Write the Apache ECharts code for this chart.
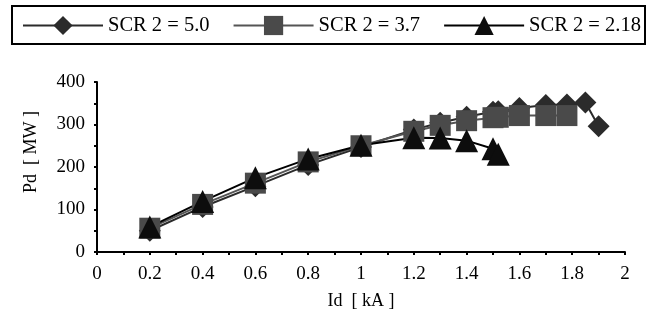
<!DOCTYPE html>
<html>
<head>
<meta charset="utf-8">
<script src="https://cdn.jsdelivr.net/npm/echarts@6/dist/echarts.min.js"></script>
<style>
  html, body { margin: 0; padding: 0; background: #fff; }
  #chart { width: 653px; height: 329px; }
</style>
</head>
<body>
<div id="chart"></div>
<script>
// values
const xScr50 = [0.2, 0.4, 0.6, 0.8, 1.0, 1.2, 1.3, 1.4, 1.5, 1.52, 1.6, 1.7, 1.78, 1.85, 1.9];
const yScr50 = [50, 106, 155, 205, 247, 288, 304, 318, 330, 331, 339, 346, 347, 352, 296];

const xScr37 = [0.2, 0.4, 0.6, 0.8, 1.0, 1.2, 1.3, 1.4, 1.5, 1.52, 1.6, 1.7, 1.78];
const yScr37 = [56, 112, 162, 212, 250, 284, 298, 309, 316, 317, 321, 321, 321];

const xScr218 = [0.2, 0.4, 0.6, 0.8, 1.0, 1.2, 1.3, 1.4, 1.5, 1.52];
const yScr218 = [59, 119, 175, 219, 251, 269, 268, 262, 243, 230];

const seriesNames = ['SCR 2 = 5.0', 'SCR 2 = 3.7', 'SCR 2 = 2.18'];

const zip = (xs, ys) => xs.map((x, i) => [x, ys[i]]);

const font = 'Liberation Serif';
const chart = echarts.init(document.getElementById('chart'));

chart.setOption({
  animation: false,
  textStyle: { fontFamily: font, color: '#000' },
  // frame around the legend
  graphic: [{
    type: 'rect',
    shape: { x: 12, y: 6, width: 633, height: 38 },
    style: { fill: 'none', stroke: '#000', lineWidth: 2 }
  }],
  legend: {
    left: 22,
    top: 15,
    width: 630,
    padding: 0,
    itemWidth: 80,
    itemHeight: 24,
    itemGap: 23,
    textStyle: { fontFamily: font, fontSize: 20.5, color: '#000' },
    data: seriesNames
  },
  grid: { left: 97, right: 28, top: 82, bottom: 77 },
  xAxis: {
    type: 'value',
    min: 0, max: 2, interval: 0.2,
    name: 'Id  [ kA ]',
    nameLocation: 'middle',
    nameGap: 40,
    nameTextStyle: { fontFamily: font, fontSize: 18, color: '#000' },
    axisLine: { lineStyle: { color: '#000', width: 2 } },
    axisTick: { length: 3, lineStyle: { color: '#000', width: 2 } },
    minorTick: { show: true, splitNumber: 2, length: 3, lineStyle: { color: '#000', width: 2 } },
    axisLabel: { fontFamily: font, fontSize: 19, color: '#000', margin: 13 },
    splitLine: { show: false }
  },
  yAxis: {
    type: 'value',
    min: 0, max: 400, interval: 100,
    name: 'Pd  [ MW ]',
    nameLocation: 'middle',
    nameGap: 57,
    nameTextStyle: { fontFamily: font, fontSize: 18, color: '#000', padding: [0, 0, 0, 30] },
    axisLine: { show: true, lineStyle: { color: '#000', width: 2 } },
    axisTick: { show: true, length: 3, lineStyle: { color: '#000', width: 2 } },
    minorTick: { show: true, splitNumber: 2, length: 3, lineStyle: { color: '#000', width: 2 } },
    axisLabel: { fontFamily: font, fontSize: 19, color: '#000', margin: 12 },
    splitLine: { show: false }
  },
  series: [
    {
      name: seriesNames[0],
      type: 'line',
      data: zip(xScr50, yScr50),
      symbol: 'diamond',
      symbolSize: 22,
      itemStyle: { color: '#2b2b2b' },
      lineStyle: { color: '#2b2b2b', width: 2 }
    },
    {
      name: seriesNames[1],
      type: 'line',
      data: zip(xScr37, yScr37),
      symbol: 'rect',
      symbolSize: 21,
      itemStyle: { color: '#4a4a4a' },
      lineStyle: { color: '#555', width: 2 }
    },
    {
      name: seriesNames[2],
      type: 'line',
      data: zip(xScr218, yScr218),
      symbol: 'triangle',
      symbolSize: 23,
      itemStyle: { color: '#0d0d0d' },
      lineStyle: { color: '#000', width: 2 }
    }
  ]
});
</script>
</body>
</html>
